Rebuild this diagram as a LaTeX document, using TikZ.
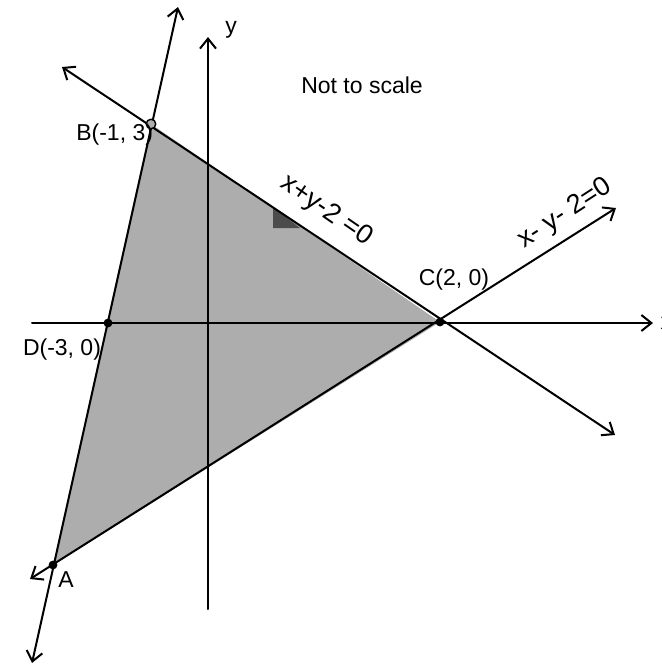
\documentclass[tikz,border=0pt]{standalone}
\usepackage{fontspec}
\setmainfont{Liberation Sans}
\usetikzlibrary{arrows.meta}
\begin{document}
\begin{tikzpicture}[x=0.5pt,y=-0.5pt,>={Straight Barb[length=5pt,width=8pt]},line join=round,line cap=round,line width=1pt,font=\fontsize{11.5}{13}\selectfont]
			\useasboundingbox (0,0) rectangle (661,666);
			% points of the triangle
			\coordinate (A) at (53,565);
			\coordinate (B) at (151,124);
			\coordinate (C) at (440,322);
			\coordinate (D) at (108,323);
			% ends of the lines
			\coordinate (bdtop) at (178,7);
			\coordinate (bdbot) at (32,663);
			\coordinate (bcleft) at (62,67);
			\coordinate (bcright) at (615,435);
			\coordinate (acleft) at (30,579);
			\coordinate (acright) at (616,208);
			\coordinate (xleft) at (32,323);
			\coordinate (xright) at (653,323);
			\coordinate (ybot) at (208,609);
			\coordinate (ytop) at (208,37);
			\fill[black!32] (A) -- (B) -- (C) -- cycle;
			\fill[black!70] (273,207) -- (273,228) -- (300,228) -- cycle;
			\draw[->] (xleft) -- (xright) node[right] (xlab) {x};
			\draw[->] (ybot) -- (ytop);
			\node (ylab) at (231,30) {y};
			\draw[<->] (bdbot) -- (bdtop);
			\draw[<->] (bcleft) -- (bcright);
			\draw[<->] (acleft) -- (acright);
			\fill (A) circle (2.2pt);
			\fill (C) circle (2.2pt);
			\fill (D) circle (2.2pt);
			\draw[line width=0.7pt,fill=black!32] (B) circle (2.4pt);
			\node[anchor=east,inner sep=0pt] (Blab) at (154,135) {B(-1, 3)};
			\node (Dlab) at (62,350) {D(-3, 0)};
			\node (Clab) at (454,280) {C(2, 0)};
			\node (Alab) at (66,580) {A};
			\node (note) at (362,85) {Not to scale};
			\node[rotate=-34.6,font=\fontsize{13.5}{15}\selectfont] (bclab) at (326,211) {x+y-2 =0};
			\node[rotate=33,font=\fontsize{13.5}{15}\selectfont] (aclab) at (565,214) {x- y- 2=0};
		\end{tikzpicture}
\end{document}
